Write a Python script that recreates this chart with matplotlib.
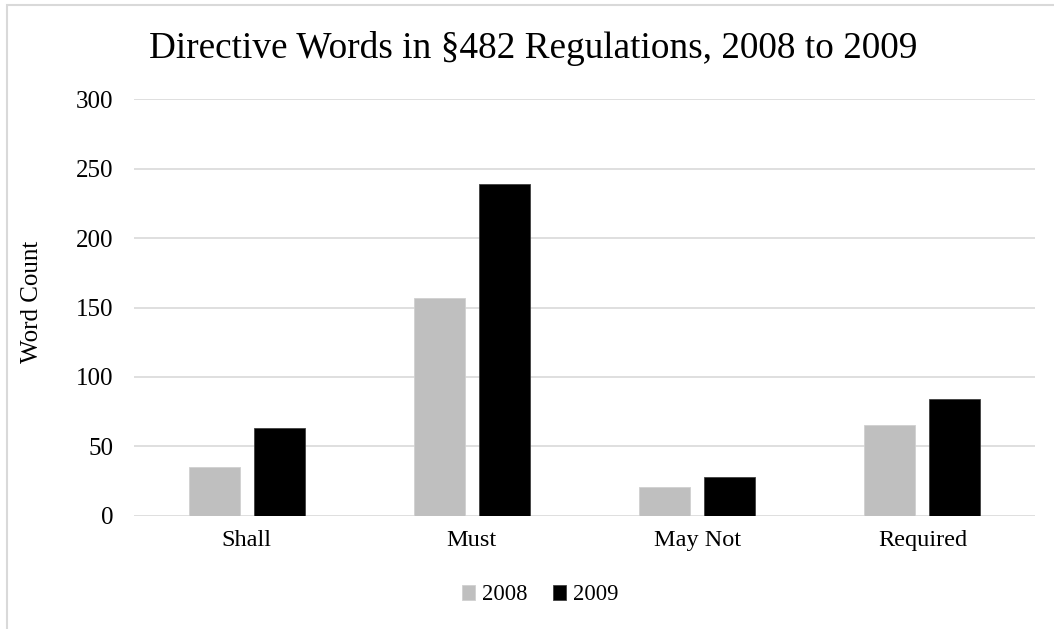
import matplotlib
matplotlib.use("Agg")
import matplotlib.pyplot as plt
import numpy as np
from matplotlib.patches import Rectangle

categories = ["Shall", "Must", "May Not", "Required"]
series_names = ["2008", "2009"]
counts_2008 = [35, 157, 21, 65]
counts_2009 = [63, 239, 28, 84]
yticks = [0, 50, 100, 150, 200, 250, 300]

colors = ["#bfbfbf", "#000000"]
edges = ["#d0d0d0", "#404040"]

plt.rcParams["font.family"] = ["Liberation Serif", "DejaVu Serif"]

fig = plt.figure(figsize=(10.54, 6.29), dpi=100)
ax = fig.add_axes([134 / 1054, 1 - 515.7 / 629, (1035 - 134) / 1054, (515.7 - 99.3) / 629])

x = np.arange(len(categories))
width = 0.226
offset = 0.144
ax.bar(x - offset, counts_2008, width, color=colors[0], edgecolor=edges[0], linewidth=0.6,
       label=series_names[0], zorder=3)
ax.bar(x + offset, counts_2009, width, color=colors[1], edgecolor=edges[1], linewidth=0.6,
       label=series_names[1], zorder=3)

ax.set_xlim(-0.5, len(categories) - 0.5)
ax.set_ylim(0, 300)
ax.set_yticks(yticks)
ax.set_xticks(x)
ax.set_xticklabels(categories)
ax.tick_params(axis="both", length=0, colors="#000000")
ax.tick_params(axis="y", pad=15, labelsize=18)
ax.tick_params(axis="x", pad=10, labelsize=17.5)
ax.grid(axis="y", color="#d9d9d9", linewidth=1.2, zorder=0)
for s in ax.spines.values():
    s.set_visible(False)

fig.text(32 / 1054, 1 - 302 / 629, "Word Count", rotation=90, fontsize=18,
         ha="center", va="center")
fig.text(533 / 1054, 1 - 48 / 629, "Directive Words in \u00a7482 Regulations, 2008 to 2009",
         fontsize=26.8, ha="center", va="center")

fig.legend(loc="center", bbox_to_anchor=(540 / 1054, 1 - 595 / 629), ncol=2, frameon=False,
           fontsize=16.3, handlelength=0.6, handleheight=0.6, handletextpad=0.3,
           columnspacing=1.1)

# chart area border (only left and top visible in the crop)
fig.patches.append(Rectangle((7 / 1054, -0.1), 1.2, 1 + 0.1 - 5 / 629,
                             transform=fig.transFigure, fill=False,
                             edgecolor="#d9d9d9", linewidth=1.5))

fig.savefig("out.png", dpi=100)
